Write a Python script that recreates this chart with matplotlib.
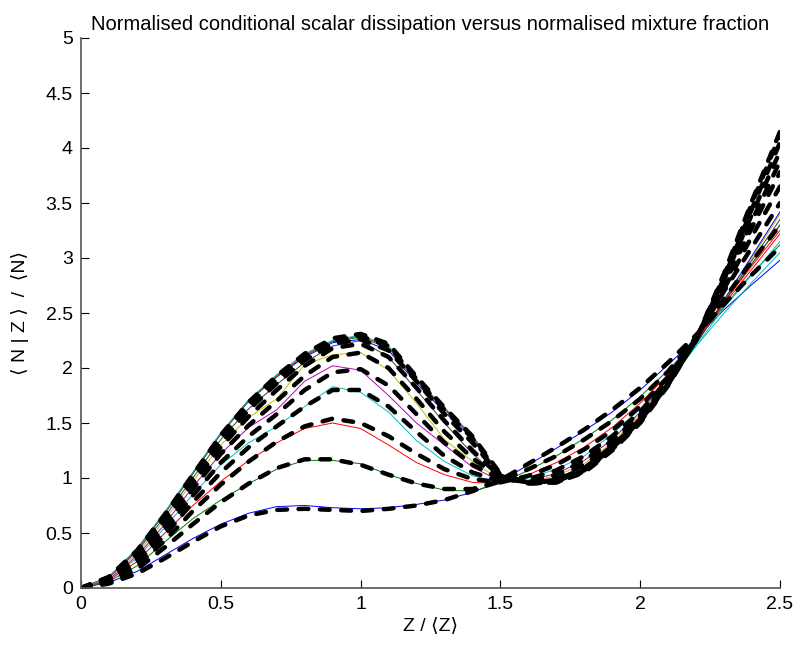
import matplotlib
matplotlib.use("Agg")
import matplotlib.pyplot as plt

# normalised mixture fraction grid
z = [0.0, 0.1, 0.2, 0.3, 0.4, 0.5, 0.6, 0.7, 0.8, 0.9, 1.0, 1.1, 1.2,
     1.3, 1.4, 1.5, 1.6, 1.7, 1.8, 1.9, 2.0, 2.1, 2.2, 2.3, 2.4, 2.5]

# thin lines (DNS-like data)
t1 = [0, 0.05, 0.15, 0.30, 0.45, 0.58, 0.68, 0.74, 0.75, 0.73, 0.72, 0.73, 0.76,
      0.80, 0.87, 0.97, 1.12, 1.27, 1.43, 1.60, 1.80, 2.03, 2.27, 2.53, 2.76, 2.98]
t2 = [0, 0.06, 0.20, 0.42, 0.63, 0.80, 0.95, 1.08, 1.16, 1.16, 1.13, 1.03, 0.95,
      0.89, 0.88, 0.95, 1.07, 1.20, 1.36, 1.53, 1.74, 1.98, 2.25, 2.56, 2.86, 3.12]
t3 = [0, 0.07, 0.24, 0.50, 0.75, 0.97, 1.16, 1.32, 1.45, 1.50, 1.45, 1.30, 1.14,
      1.03, 0.96, 0.95, 1.03, 1.14, 1.28, 1.46, 1.68, 1.94, 2.24, 2.58, 2.90, 3.22]
t4 = [0, 0.08, 0.27, 0.55, 0.85, 1.12, 1.32, 1.47, 1.65, 1.83, 1.78, 1.60, 1.34,
      1.15, 1.02, 0.96, 1.00, 1.08, 1.20, 1.40, 1.63, 1.90, 2.20, 2.50, 2.78, 3.05]
t5 = [0, 0.08, 0.29, 0.58, 0.92, 1.22, 1.46, 1.62, 1.88, 2.02, 1.98, 1.75, 1.50,
      1.30, 1.10, 0.97, 0.98, 1.04, 1.16, 1.35, 1.60, 1.90, 2.23, 2.60, 2.95, 3.30]
t6 = [0, 0.09, 0.31, 0.62, 0.97, 1.30, 1.55, 1.72, 2.03, 2.12, 2.14, 1.98, 1.68,
      1.35, 1.15, 0.98, 0.97, 1.02, 1.13, 1.32, 1.58, 1.88, 2.23, 2.62, 3.00, 3.40]
t7 = [0, 0.10, 0.33, 0.65, 1.00, 1.35, 1.63, 1.85, 2.05, 2.20, 2.25, 2.10, 1.80,
      1.50, 1.22, 1.00, 0.96, 1.00, 1.10, 1.30, 1.55, 1.87, 2.22, 2.60, 2.98, 3.35]
t8 = [0, 0.10, 0.35, 0.68, 1.04, 1.40, 1.70, 1.92, 2.10, 2.23, 2.26, 2.16, 1.86,
      1.60, 1.36, 1.02, 0.96, 0.99, 1.08, 1.28, 1.55, 1.87, 2.22, 2.62, 3.02, 3.42]
t9 = [0, 0.10, 0.35, 0.68, 1.04, 1.40, 1.70, 1.92, 2.11, 2.24, 2.28, 2.18, 1.88,
      1.62, 1.38, 1.02, 0.96, 0.99, 1.09, 1.29, 1.56, 1.88, 2.23, 2.60, 2.95, 3.30]
t10 = [0, 0.10, 0.35, 0.69, 1.05, 1.41, 1.71, 1.93, 2.12, 2.25, 2.29, 2.19, 1.89,
       1.63, 1.38, 1.02, 0.95, 0.99, 1.09, 1.29, 1.56, 1.88, 2.24, 2.60, 2.93, 3.25]
t11 = [0, 0.10, 0.36, 0.69, 1.05, 1.41, 1.71, 1.94, 2.13, 2.25, 2.30, 2.20, 1.90,
       1.64, 1.39, 1.03, 0.95, 0.98, 1.07, 1.27, 1.54, 1.86, 2.20, 2.55, 2.85, 3.15]
thin = [t1, t2, t3, t4, t5, t6, t7, t8, t9, t10, t11]

# thick dashed lines (model)
d1 = [0, 0.04, 0.13, 0.27, 0.42, 0.56, 0.66, 0.71, 0.72, 0.71, 0.70, 0.72, 0.75,
      0.80, 0.88, 0.98, 1.13, 1.28, 1.44, 1.62, 1.82, 2.05, 2.30, 2.58, 2.85, 3.10]
d2 = [0, 0.05, 0.17, 0.37, 0.58, 0.78, 0.95, 1.09, 1.17, 1.17, 1.12, 1.03, 0.95,
      0.90, 0.90, 0.97, 1.08, 1.20, 1.35, 1.52, 1.72, 1.97, 2.28, 2.63, 2.97, 3.30]
d3 = [0, 0.06, 0.20, 0.43, 0.70, 0.94, 1.15, 1.33, 1.47, 1.54, 1.50, 1.38, 1.22,
      1.08, 0.99, 0.96, 1.02, 1.12, 1.26, 1.43, 1.65, 1.92, 2.27, 2.70, 3.10, 3.50]
d4 = [0, 0.07, 0.23, 0.48, 0.78, 1.05, 1.28, 1.47, 1.65, 1.80, 1.80, 1.65, 1.42,
      1.20, 1.05, 0.97, 0.99, 1.07, 1.20, 1.38, 1.60, 1.90, 2.26, 2.72, 3.20, 3.65]
d5 = [0, 0.07, 0.25, 0.52, 0.84, 1.14, 1.38, 1.58, 1.80, 1.96, 1.99, 1.84, 1.58,
      1.32, 1.12, 0.99, 0.97, 1.03, 1.16, 1.34, 1.57, 1.88, 2.26, 2.76, 3.28, 3.78]
d6 = [0, 0.08, 0.27, 0.56, 0.90, 1.22, 1.48, 1.70, 1.93, 2.10, 2.14, 2.00, 1.72,
      1.42, 1.18, 1.00, 0.96, 1.00, 1.12, 1.31, 1.55, 1.87, 2.26, 2.78, 3.34, 3.88]
d7 = [0, 0.09, 0.30, 0.60, 0.95, 1.28, 1.56, 1.80, 2.02, 2.18, 2.22, 2.10, 1.82,
      1.52, 1.25, 1.01, 0.96, 0.98, 1.09, 1.29, 1.53, 1.86, 2.26, 2.80, 3.40, 3.97]
d8 = [0, 0.09, 0.32, 0.63, 0.98, 1.32, 1.62, 1.86, 2.07, 2.22, 2.26, 2.16, 1.88,
      1.58, 1.32, 1.02, 0.96, 0.97, 1.07, 1.27, 1.52, 1.85, 2.26, 2.82, 3.45, 4.05]
d9 = [0, 0.10, 0.33, 0.65, 1.01, 1.36, 1.66, 1.90, 2.10, 2.25, 2.29, 2.20, 1.90,
      1.62, 1.36, 1.03, 0.95, 0.96, 1.06, 1.26, 1.51, 1.85, 2.26, 2.84, 3.50, 4.12]
d10 = [0, 0.10, 0.34, 0.67, 1.03, 1.39, 1.69, 1.93, 2.13, 2.27, 2.31, 2.22, 1.92,
       1.64, 1.38, 1.04, 0.95, 0.96, 1.05, 1.25, 1.50, 1.84, 2.26, 2.86, 3.52, 4.15]
dashed = [d1, d2, d3, d4, d5, d6, d7, d8, d9, d10]

# old matlab colour order b g r c m y k
cols = [(0, 0, 1), (0, 0.5, 0), (1, 0, 0), (0, 0.75, 0.75), (0.75, 0, 0.75),
        (0.75, 0.75, 0), (0.25, 0.25, 0.25)]

fnt = ['Liberation Sans', 'DejaVu Sans']
plt.rcParams['font.family'] = fnt

fig = plt.figure(figsize=(7.96, 6.47), dpi=100)
ax = fig.add_axes([81/796, 59/647, 699/796, 550/647])

for i, t in enumerate(thin):
    ax.plot(z, t, color=cols[i % 7], lw=0.7)
for d in dashed:
    ax.plot(z, d, color='k', lw=3.2, ls=(0, (2.2, 2.6)), dash_capstyle='round')

ax.set_xlim(0, 2.5)
ax.set_ylim(0, 5)
ax.set_xticks([0, 0.5, 1, 1.5, 2, 2.5])
ax.set_xticklabels(['0', '0.5', '1', '1.5', '2', '2.5'])
ax.set_yticks([0, 0.5, 1, 1.5, 2, 2.5, 3, 3.5, 4, 4.5, 5])
ax.set_yticklabels(['0', '0.5', '1', '1.5', '2', '2.5', '3', '3.5', '4', '4.5', '5'])
ax.spines['top'].set_visible(False)
ax.spines['right'].set_visible(False)
for s in ['left', 'bottom']:
    ax.spines[s].set_color('#555555')
    ax.spines[s].set_linewidth(1.2)
ax.tick_params(direction='in', length=6, width=0.8, labelsize=14, pad=6, color='k')

ax.set_title('Normalised conditional scalar dissipation versus normalised mixture fraction',
             fontsize=14.5, pad=6)
ax.set_xlabel('Z / \u27e8Z\u27e9', fontsize=14, labelpad=3)
ax.set_ylabel('\u27e8 N | Z \u27e9  /  \u27e8N\u27e9', fontsize=14, labelpad=12)

fig.savefig('out.png', dpi=100)
